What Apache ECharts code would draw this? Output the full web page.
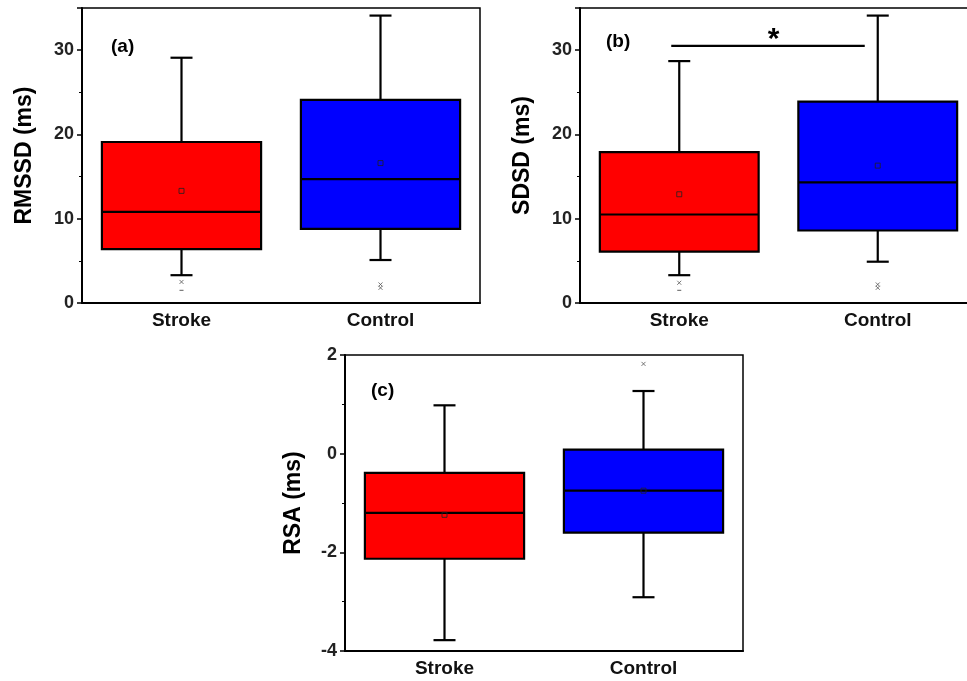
<!DOCTYPE html>
<html>
<head>
<meta charset="utf-8">
<script src="https://cdn.jsdelivr.net/npm/echarts@6/dist/echarts.min.js"></script>
<style>
  html, body { margin: 0; padding: 0; background: #fff; }
  #main { width: 967px; height: 681px; }
</style>
</head>
<body>
<div id="main"></div>
<script>
// groups on the x axis
const groups = ['Stroke', 'Control'];
const boxColors = ['#ff0000', '#0000ff'];

// box stats: [low whisker, Q1, median, Q3, high whisker]
const rmssdBox = [[3.3, 6.4, 10.8, 19.1, 29.1], [5.1, 8.8, 14.7, 24.1, 34.1]];
const rmssdMean = [13.3, 16.6];
const rmssdCross = [[0, 2.5], [1, 2.2], [1, 1.8]];
const rmssdDash = [[0, 1.5]];

const sdsdBox = [[3.3, 6.1, 10.5, 17.9, 28.7], [4.9, 8.6, 14.3, 23.9, 34.1]];
const sdsdMean = [12.9, 16.3];
const sdsdCross = [[0, 2.4], [1, 2.2], [1, 1.8]];
const sdsdDash = [[0, 1.5]];
const sdsdSignif = 30.5;

const rsaBox = [[-3.78, -2.13, -1.2, -0.39, 0.98], [-2.91, -1.6, -0.75, 0.08, 1.27]];
const rsaMean = [-1.24, -0.75];
const rsaCross = [[1, 1.82]];

const FONT = '"Liberation Sans", Arial, sans-serif';
const crossPath = 'path://M0,0L10,10M10,0L0,10';

function renderBox(params, api) {
  const i = api.value(0);
  const lo = api.coord([i, api.value(1)]);
  const q1 = api.coord([i, api.value(2)]);
  const med = api.coord([i, api.value(3)]);
  const q3 = api.coord([i, api.value(4)]);
  const hi = api.coord([i, api.value(5)]);
  const bw = api.size([1, 0])[0] * 0.8;
  const x = med[0];
  const cap = 11;
  const ln = { stroke: '#000', lineWidth: 2.2 };
  return {
    type: 'group',
    children: [
      { type: 'line', shape: { x1: x, y1: hi[1], x2: x, y2: q3[1] }, style: ln },
      { type: 'line', shape: { x1: x, y1: q1[1], x2: x, y2: lo[1] }, style: ln },
      { type: 'line', shape: { x1: x - cap, y1: hi[1], x2: x + cap, y2: hi[1] }, style: ln },
      { type: 'line', shape: { x1: x - cap, y1: lo[1], x2: x + cap, y2: lo[1] }, style: ln },
      { type: 'rect', shape: { x: x - bw / 2, y: q3[1], width: bw, height: q1[1] - q3[1] },
        style: { fill: boxColors[params.dataIndex], stroke: '#000', lineWidth: 2.2 } },
      { type: 'line', shape: { x1: x - bw / 2, y1: med[1], x2: x + bw / 2, y2: med[1] }, style: ln }
    ]
  };
}

function boxSeries(idx, box, mean, cross, dash) {
  const out = [
    {
      type: 'custom', xAxisIndex: idx, yAxisIndex: idx,
      renderItem: renderBox,
      encode: { x: 0, y: [1, 2, 3, 4, 5] },
      data: box.map((b, i) => [i].concat(b)),
      z: 2
    },
    {
      type: 'scatter', xAxisIndex: idx, yAxisIndex: idx,
      symbol: 'rect', symbolSize: 5,
      itemStyle: { color: 'rgba(0,0,0,0)', borderColor: '#222', borderWidth: 1 },
      data: mean.map((m, i) => [i, m]), z: 5, silent: true
    },
    {
      type: 'scatter', xAxisIndex: idx, yAxisIndex: idx,
      symbol: crossPath, symbolSize: 4,
      itemStyle: { color: 'rgba(0,0,0,0)', borderColor: '#555', borderWidth: 1 },
      data: cross, z: 5, silent: true
    }
  ];
  if (dash) {
    out.push({
      type: 'scatter', xAxisIndex: idx, yAxisIndex: idx,
      symbol: 'rect', symbolSize: [4, 1.2],
      itemStyle: { color: '#555' },
      data: dash, z: 5, silent: true
    });
  }
  return out;
}

function makeX(idx) {
  return {
    type: 'category', gridIndex: idx, data: groups,
    axisLine: { onZero: false, lineStyle: { color: '#000', width: 2 } },
    axisTick: { alignWithLabel: true, length: 5, lineStyle: { color: '#000', width: 1.5 } },
    axisLabel: { color: '#111', fontFamily: FONT, fontWeight: 'bold', fontSize: 19, margin: 8 },
    splitLine: { show: false }
  };
}

function makeY(idx, name, min, max, interval, gap) {
  return {
    type: 'value', gridIndex: idx, min: min, max: max, interval: interval,
    name: name, nameLocation: 'middle', nameGap: gap, nameRotate: 90,
    nameTextStyle: { color: '#000', fontFamily: FONT, fontWeight: 'bold', fontSize: 23 },
    axisLine: { show: true, onZero: false, lineStyle: { color: '#000', width: 2 } },
    axisTick: { show: true, length: 5, lineStyle: { color: '#000', width: 1.5 } },
    minorTick: { show: true, splitNumber: 2, length: 3, lineStyle: { color: '#000', width: 1 } },
    axisLabel: { color: '#222', fontFamily: FONT, fontWeight: 'bold', fontSize: 18, margin: 8,
      showMaxLabel: max === 2 },
    splitLine: { show: false }
  };
}

const gridBase = { show: true, borderColor: '#000', borderWidth: 1.5, backgroundColor: '#fff', outerBoundsMode: 'none' };

const chart = echarts.init(document.getElementById('main'));
chart.setOption({
  animation: false,
  backgroundColor: '#fff',
  grid: [
    Object.assign({ left: 82, top: 8, width: 398, height: 295 }, gridBase),
    Object.assign({ left: 580, top: 8, width: 397, height: 295 }, gridBase),
    Object.assign({ left: 345, top: 355, width: 398, height: 296 }, gridBase)
  ],
  xAxis: [makeX(0), makeX(1), makeX(2)],
  yAxis: [
    makeY(0, 'RMSSD (ms)', 0, 35, 10, 46),
    makeY(1, 'SDSD (ms)', 0, 35, 10, 46),
    makeY(2, 'RSA (ms)', -4, 2, 2, 40)
  ],
  series: [].concat(
    boxSeries(0, rmssdBox, rmssdMean, rmssdCross, rmssdDash),
    boxSeries(1, sdsdBox, sdsdMean, sdsdCross, sdsdDash),
    boxSeries(2, rsaBox, rsaMean, rsaCross, null),
    [{
      type: 'custom', xAxisIndex: 1, yAxisIndex: 1,
      data: [[0, 1, sdsdSignif]],
      renderItem: function (params, api) {
        const a = api.coord([api.value(0), api.value(2)]);
        const b = api.coord([api.value(1), api.value(2)]);
        return {
          type: 'group',
          children: [
            { type: 'line', shape: { x1: a[0] - 8, y1: a[1], x2: b[0] - 13, y2: b[1] },
              style: { stroke: '#000', lineWidth: 2.2 } },
            { type: 'text', x: (a[0] + b[0]) / 2 - 5, y: a[1] + 9,
              style: { text: '*', fill: '#000', font: 'bold 30px ' + FONT, align: 'center', verticalAlign: 'bottom' } }
          ]
        };
      },
      z: 6, silent: true
    }]
  ),
  graphic: [
    { type: 'text', left: 111, top: 37, style: { text: '(a)', fill: '#000', font: 'bold 19px ' + FONT } },
    { type: 'text', left: 606, top: 32, style: { text: '(b)', fill: '#000', font: 'bold 19px ' + FONT } },
    { type: 'text', left: 371, top: 381, style: { text: '(c)', fill: '#000', font: 'bold 19px ' + FONT } }
  ]
});
</script>
</body>
</html>
